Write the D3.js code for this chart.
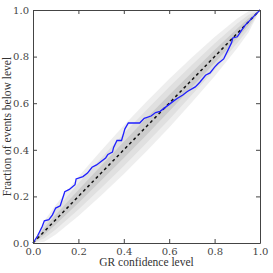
<!DOCTYPE html>
<html lang="en">
  <head>
    <meta charset="UTF-8" />
    <title>PP plot</title>
    <script src="https://d3js.org/d3.v7.min.js"></script>
    <style>
      body { margin: 0; background: white; }
      svg { display: block; }
      .tick text { font-family: "DejaVu Serif", "Liberation Serif", serif; font-size: 10px; fill: #444; }
      .label { font-family: "Liberation Serif", "DejaVu Serif", serif; font-size: 11.5px; fill: #333; }
    </style>
  </head>
  <body>
    <script>
      // Data
      const ticks = [0, 0.2, 0.4, 0.6, 0.8, 1.0];
      const bandP = [0, 0.05, 0.1, 0.2, 0.3, 0.4, 0.5, 0.6, 0.7, 0.8, 0.9, 0.95, 1];
      const band1 = [0, 0.015, 0.021, 0.028, 0.032, 0.035, 0.036, 0.035, 0.032, 0.028, 0.021, 0.015, 0];
      const band2 = [0, 0.03, 0.042, 0.056, 0.064, 0.07, 0.071, 0.07, 0.064, 0.056, 0.042, 0.03, 0];
      const band3 = [0, 0.045, 0.063, 0.084, 0.096, 0.104, 0.106, 0.104, 0.096, 0.084, 0.063, 0.045, 0];

      const lineX = [0, 0.02, 0.04, 0.05, 0.07, 0.085, 0.1, 0.12, 0.14, 0.16, 0.185, 0.19, 0.22, 0.24, 0.26, 0.28,
        0.30, 0.32, 0.33, 0.35, 0.355, 0.37, 0.39, 0.405, 0.42, 0.47, 0.49, 0.52, 0.54, 0.56, 0.58, 0.60, 0.62,
        0.635, 0.66, 0.68, 0.715, 0.735, 0.76, 0.78, 0.80, 0.815, 0.84, 0.86, 0.875, 0.88, 0.90, 0.92, 0.935,
        0.95, 0.965, 0.98, 0.99, 1.0];
      const lineY = [0, 0.03, 0.07, 0.095, 0.10, 0.12, 0.15, 0.16, 0.22, 0.23, 0.25, 0.275, 0.285, 0.30, 0.325, 0.335,
        0.35, 0.365, 0.38, 0.39, 0.41, 0.44, 0.44, 0.49, 0.515, 0.515, 0.535, 0.545, 0.56, 0.565, 0.58, 0.595, 0.61,
        0.62, 0.635, 0.65, 0.67, 0.69, 0.72, 0.73, 0.755, 0.77, 0.79, 0.83, 0.86, 0.88, 0.885, 0.915, 0.935,
        0.95, 0.965, 0.98, 0.99, 1.0];

      const W = 273, H = 273;
      const m = { left: 33, right: 13, top: 10, bottom: 30 };
      const svg = d3.select("body").append("svg").attr("width", W).attr("height", H);

      const x = d3.scaleLinear().domain([0, 1]).range([m.left, W - m.right]);
      const y = d3.scaleLinear().domain([0, 1]).range([H - m.bottom, m.top]);

      // confidence bands, widest first
      const bands = [[band3, "#eeeeee"], [band2, "#e0e0e0"], [band1, "#cccccc"]];
      bands.forEach(([w, col]) => {
        const area = d3.area()
          .x((d, i) => x(bandP[i]))
          .y0((d, i) => y(Math.max(0, bandP[i] - w[i])))
          .y1((d, i) => y(Math.min(1, bandP[i] + w[i])));
        svg.append("path").datum(bandP).attr("d", area).attr("fill", col);
      });

      // diagonal
      svg.append("path")
        .datum([0, 1])
        .attr("d", d3.line().x(d => x(d)).y(d => y(d)))
        .attr("stroke", "#111")
        .attr("stroke-width", 1.5)
        .attr("stroke-dasharray", "3,3")
        .attr("fill", "none");

      // empirical curve
      svg.append("path")
        .datum(lineX)
        .attr("d", d3.line().x((d, i) => x(d)).y((d, i) => y(lineY[i])))
        .attr("stroke", "#1f1fff")
        .attr("stroke-width", 1.3)
        .attr("fill", "none");

      // axes, ticks inward on all sides
      const fmt = d3.format(".1f");
      svg.append("g").attr("transform", `translate(0,${H - m.bottom})`)
        .call(d3.axisBottom(x).tickValues(ticks).tickFormat(fmt).tickSizeInner(-4).tickSizeOuter(0).tickPadding(5));
      svg.append("g").attr("transform", `translate(${m.left},0)`)
        .call(d3.axisLeft(y).tickValues(ticks).tickFormat(fmt).tickSizeInner(-4).tickSizeOuter(0).tickPadding(4));
      svg.append("g").attr("transform", `translate(0,${m.top})`)
        .call(d3.axisTop(x).tickValues(ticks).tickFormat("").tickSizeInner(-4).tickSizeOuter(0));
      svg.append("g").attr("transform", `translate(${W - m.right},0)`)
        .call(d3.axisRight(y).tickValues(ticks).tickFormat("").tickSizeInner(-4).tickSizeOuter(0));
      svg.selectAll(".domain").attr("stroke", "#444").attr("stroke-width", 1);
      svg.selectAll(".tick line").attr("stroke", "#444");

      svg.append("text").attr("class", "label")
        .attr("x", (m.left + W - m.right) / 2).attr("y", H - 7)
        .attr("text-anchor", "middle").text("GR confidence level");
      svg.append("text").attr("class", "label")
        .attr("transform", `translate(11,${(m.top + H - m.bottom) / 2}) rotate(-90)`)
        .attr("text-anchor", "middle").text("Fraction of events below level");
    </script>
  </body>
</html>
